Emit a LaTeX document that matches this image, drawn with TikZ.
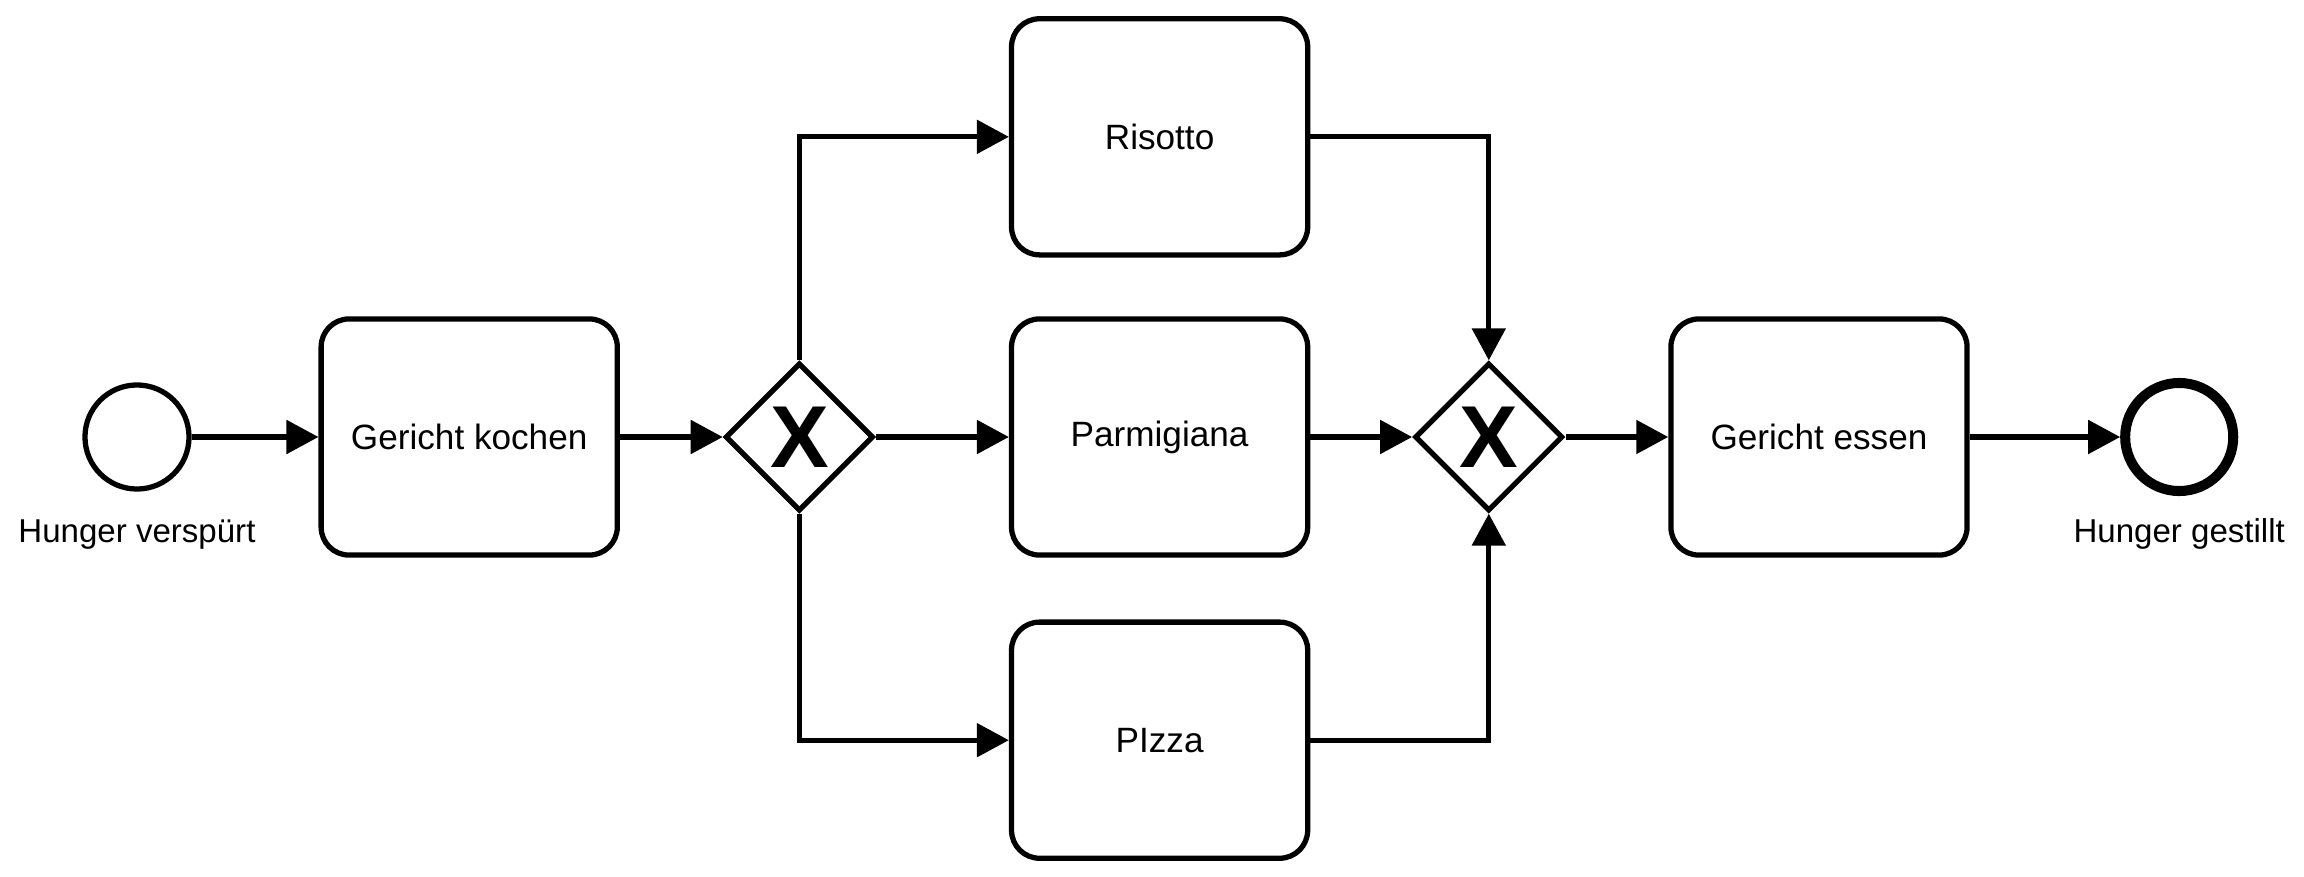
\documentclass[tikz,border=0pt]{standalone}
\usepackage{fontspec}
\setmainfont{Liberation Sans}
\usetikzlibrary{positioning,shapes.geometric,arrows.meta}

\begin{document}
\begin{tikzpicture}[->, >={Triangle[length=0.32cm,width=0.33cm]}, x=0.01cm, y=-0.01cm, node distance=3.3cm, line width=1.5pt,
  task node/.style={rectangle, rounded corners=0.28cm, draw, minimum width=2.96cm, minimum height=2.36cm},
  gate node/.style={diamond, draw, aspect=1, inner sep=0pt, minimum size=1.48cm, font=\fontsize{25}{25}\selectfont\bfseries},
  event node/.style={circle, draw, inner sep=0pt, minimum size=1.04cm}]
        \tikzstyle{every node}=[font=\fontsize{10}{12}\selectfont]
        \useasboundingbox (0,0) rectangle (2304,876);

          \node[event node] (1) at (137,437) {};
          \node[font=\fontsize{9.4}{11}\selectfont] (2) [below of=1, node distance=0.97cm] {Hunger verspürt};
          \node[task node] (3) [right of=1, node distance=3.32cm] {Gericht kochen};
          \node[gate node] (4) [right of=3] {X};
          \node[task node] (5) [right of=4, node distance=3.6cm] {Parmigiana};
          \node[task node] (6) [above of=5, node distance=3cm] {Risotto};
          \node[task node] (7) [below of=5, node distance=3.03cm] {PIzza};
          \node[gate node] (8) [right of=5, node distance=3.29cm] {X};
          \node[task node] (9) [right of=8] {Gericht essen};
          \node[event node, line width=2.85pt, minimum size=1.08cm] (10) [right of=9, node distance=3.6cm] {};
          \node[font=\fontsize{9.4}{11}\selectfont] (11) [below of=10, node distance=0.97cm] {Hunger gestillt};

          \path (1) edge (3)
                (3) edge (4)
                (4) edge (5)
                (5) edge (8)
                (8) edge (9)
                (9) edge (10);
          \draw (4.north) |- (6);
          \draw (4.south) |- (7);
          \draw (6) -| (8.north);
          \draw (7) -| (8.south);

\end{tikzpicture}
\end{document}
